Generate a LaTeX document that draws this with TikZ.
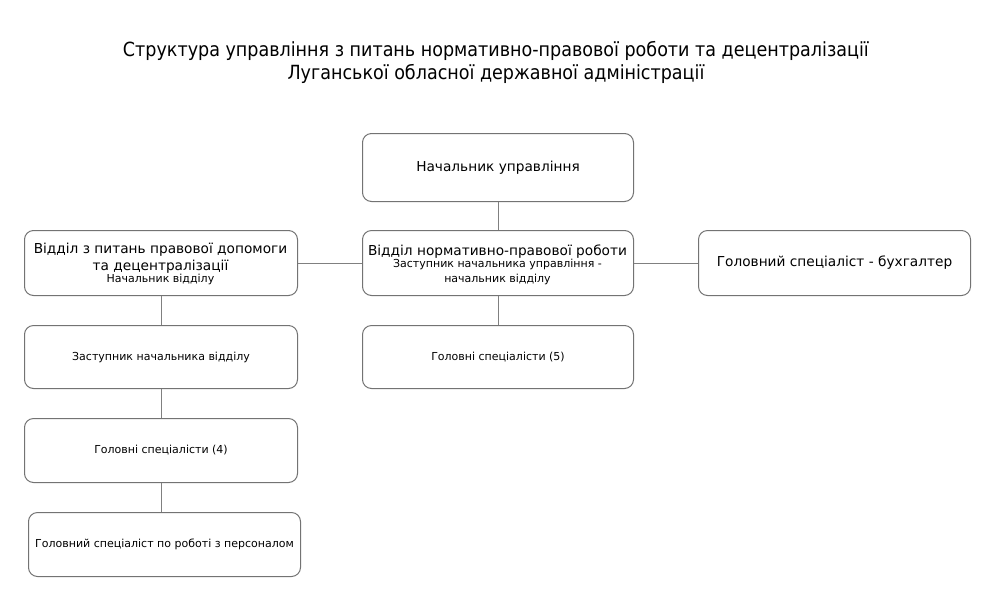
\documentclass[tikz,border=0pt]{standalone}
\usepackage{fontspec}
\setmainfont{DejaVu Sans}
\newfontfamily\titlefont{DejaVu Sans Condensed}
\newcommand{\bigf}{\fontsize{13.7}{17}\selectfont}
\newcommand{\smallf}{\fontsize{11}{14}\selectfont}
\begin{document}
\begin{tikzpicture}[x=1pt,y=-1pt,
  frame/.style={draw=black!55, line width=1pt, rounded corners=9pt, fill=white},
  label/.style={align=center, inner sep=0pt},
  line/.style={inner sep=0pt, anchor=base},
  link/.style={draw=black!50, line width=1pt}]
\useasboundingbox[fill=white] (0,0) rectangle (992,595);
\node[font=\titlefont\fontsize{19.5}{23}\selectfont, align=center] (title) at (496,62)
  {Структура управління з питань нормативно-правової роботи та децентралізації\\Луганської обласної державної адміністрації};
% frames
\node[frame, minimum width=271pt, minimum height=68pt, anchor=north west] (top) at (362,133) {};
\node[frame, minimum width=273pt, minimum height=65pt, anchor=north west] (l1) at (24,230) {};
\node[frame, minimum width=271pt, minimum height=65pt, anchor=north west] (m1) at (362,230) {};
\node[frame, minimum width=272pt, minimum height=65pt, anchor=north west] (r1) at (698,230) {};
\node[frame, minimum width=273pt, minimum height=63pt, anchor=north west] (l2) at (24,325) {};
\node[frame, minimum width=271pt, minimum height=63pt, anchor=north west] (m2) at (362,325) {};
\node[frame, minimum width=273pt, minimum height=64pt, anchor=north west] (l3) at (24,418) {};
\node[frame, minimum width=272pt, minimum height=64pt, anchor=north west] (l4) at (28,512) {};
% texts
\node[label, font=\bigf] (ttop) at (top.center) {Начальник управління};
\node[line, font=\bigf] (tl1a) at (160.5,253) {Відділ з питань правової допомоги};
\node[line, font=\bigf] (tl1b) at (160.5,270) {та децентралізації};
\node[line, font=\smallf] (tl1c) at (160.5,282) {Начальник відділу};
\node[line, font=\bigf] (tm1a) at (497.5,255.5) {Відділ нормативно-правової роботи};
\node[line, font=\smallf] (tm1b) at (497.5,267) {Заступник начальника управління -};
\node[line, font=\smallf] (tm1c) at (497.5,282) {начальник відділу};
\node[label, font=\bigf] (tr1) at (r1.center) {Головний спеціаліст - бухгалтер};
\node[label, font=\smallf] (tl2) at (l2.center) {Заступник начальника відділу};
\node[label, font=\smallf] (tm2) at (m2.center) {Головні спеціалісти (5)};
\node[label, font=\smallf] (tl3) at (l3.center) {Головні спеціалісти (4)};
\node[label, font=\smallf] (tl4) at (l4.center) {Головний спеціаліст по роботі з персоналом};
% connectors
\draw[link] (top.south) -- (m1.north);
\draw[link] (m1.west) -- (l1.east);
\draw[link] (m1.east) -- (r1.west);
\draw[link] (m1.south) -- (m2.north);
\draw[link] (l1.south) -- (l2.north);
\draw[link] (l2.south) -- (l3.north);
\draw[link] (l3.south) -- (l3.south |- l4.north);
\end{tikzpicture}
\end{document}
